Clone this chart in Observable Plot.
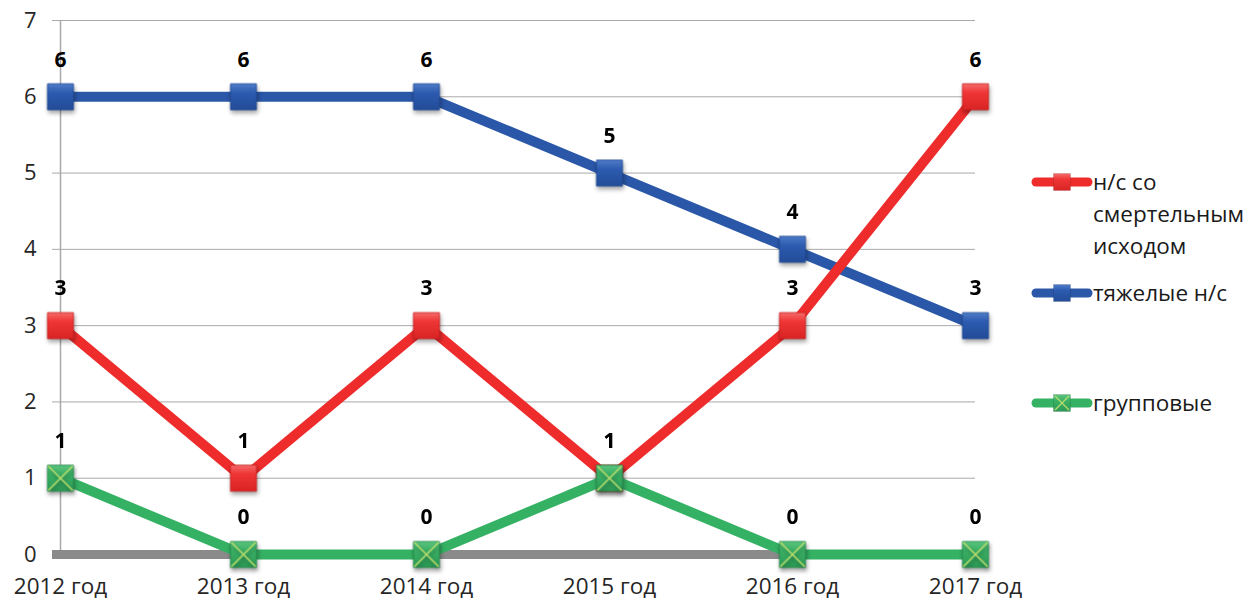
<!DOCTYPE html>
<html>
<head>
<meta charset="utf-8">
<script src="https://cdn.jsdelivr.net/npm/d3@7"></script>
<script src="https://cdn.jsdelivr.net/npm/@observablehq/plot@0.6"></script>
<style>
  html, body { margin: 0; padding: 0; background: #fff; }
  #wrap { position: relative; width: 1250px; height: 600px; font-family: "Open Sans", sans-serif; }
  #chart { position: absolute; left: 0; top: 0; }
  .leg { position: absolute; left: 1030px; }
  .leg svg { position: absolute; left: 0; top: 6px; }
  .leg .lbl { position: absolute; left: 63px; top: 0; font-size: 22.5px; line-height: 32px; color: #1a1a1a; white-space: nowrap; }
</style>
</head>
<body>
<div id="wrap"><div id="chart"></div></div>
<script>
const years = ["2012 год", "2013 год", "2014 год", "2015 год", "2016 год", "2017 год"];
const fatal = [3, 1, 3, 1, 3, 6];
const severe = [6, 6, 6, 5, 4, 3];
const group = [1, 0, 0, 1, 0, 0];
const seriesNames = ["н/с со смертельным исходом", "тяжелые н/с", "групповые"];
const yTicks = [0, 1, 2, 3, 4, 5, 6, 7];

const colors = {red: "#ee2c2c", blue: "#2a57a8", green: "#35b164"};

const rows = (vals, s) => vals.map((v, i) => ({year: years[i], value: v, series: s}));
const fatalRows = rows(fatal, seriesNames[0]);
const severeRows = rows(severe, seriesNames[1]);
const groupRows = rows(group, seriesNames[2]);

const chart = Plot.plot({
  width: 1010,
  height: 600,
  marginLeft: 52,
  marginRight: 35,
  marginTop: 20,
  marginBottom: 46,
  style: {fontFamily: "Open Sans, sans-serif", color: "#262626", background: "transparent", overflow: "visible"},
  x: {type: "point", domain: years, padding: 0, insetLeft: 8, label: null},
  y: {domain: [0, 7], label: null},
  marks: [
    Plot.ruleY(yTicks.filter(d => d > 0), {stroke: "#a9a9a9", strokeWidth: 1}),
    Plot.ruleX([years[0]], {y1: 0, y2: 7, stroke: "#a9a9a9", strokeWidth: 1.5}),
    Plot.ruleY([0], {stroke: "#8a8a8a", strokeWidth: 9}),
    Plot.axisY({ticks: yTicks, tickSize: 0, tickPadding: 16, fontSize: 22, tickFormat: d => String(d), label: null}),
    Plot.axisX({tickSize: 0, tickPadding: 24, fontSize: 22.5, label: null}),
    Plot.line(severeRows, {x: "year", y: "value", stroke: colors.blue, strokeWidth: 10}),
    Plot.dot(severeRows, {x: "year", y: "value", symbol: "square", r: 14.7, fill: "url(#gBlue)", stroke: "#1f4a94", strokeWidth: 0.8}),
    Plot.line(fatalRows, {x: "year", y: "value", stroke: colors.red, strokeWidth: 10}),
    Plot.dot(fatalRows, {x: "year", y: "value", symbol: "square", r: 14.7, fill: "url(#gRed)", stroke: "#c81f1f", strokeWidth: 0.8}),
    Plot.line(groupRows, {x: "year", y: "value", stroke: colors.green, strokeWidth: 10}),
    Plot.dot(groupRows, {x: "year", y: "value", symbol: "square", r: 14.7, fill: "url(#gGreen)", stroke: "#248a4a", strokeWidth: 0.8}),
    Plot.dot(groupRows, {x: "year", y: "value", symbol: "times", r: 11.2, stroke: "#b8dd6e", strokeWidth: 1.6}),
    Plot.text(severeRows, {x: "year", y: "value", text: d => String(d.value), dy: -37, fontSize: 21, fontWeight: "bold", fill: "#000"}),
    Plot.text(fatalRows, {x: "year", y: "value", text: d => String(d.value), dy: -37, fontSize: 21, fontWeight: "bold", fill: "#000"}),
    Plot.text(groupRows, {x: "year", y: "value", text: d => String(d.value), dy: -37, fontSize: 21, fontWeight: "bold", fill: "#000"})
  ]
});

// gradients for bevelled markers
const defs = `
<linearGradient id="gRed" x1="0" y1="0" x2="0" y2="1">
  <stop offset="0" stop-color="#f66a6a"/><stop offset="0.35" stop-color="#ef3535"/><stop offset="1" stop-color="#d92424"/>
</linearGradient>
<linearGradient id="gBlue" x1="0" y1="0" x2="0" y2="1">
  <stop offset="0" stop-color="#4f7cc8"/><stop offset="0.35" stop-color="#2d5bb0"/><stop offset="1" stop-color="#234c98"/>
</linearGradient>
<linearGradient id="gGreen" x1="0" y1="0" x2="0" y2="1">
  <stop offset="0" stop-color="#5cc47f"/><stop offset="0.35" stop-color="#3bb165"/><stop offset="1" stop-color="#2c9a55"/>
</linearGradient>`;
const d = document.createElementNS("http://www.w3.org/2000/svg", "defs");
d.innerHTML = defs;
chart.insertBefore(d, chart.firstChild);
chart.querySelectorAll('g[aria-label="dot"]').forEach(g => g.style.filter = "drop-shadow(1px 3px 2px rgba(0,0,0,0.35))");
document.getElementById("chart").appendChild(chart);

// legend
const legendItems = [
  {name: seriesNames[0], color: colors.red, fill: "url(#gRed)", y: 182, cross: false, label: "н/с со<br>смертельным<br>исходом"},
  {name: seriesNames[1], color: colors.blue, fill: "url(#gBlue)", y: 293, cross: false, label: "тяжелые н/с"},
  {name: seriesNames[2], color: colors.green, fill: "url(#gGreen)", y: 403, cross: true, label: "групповые"}
];
const wrap = document.getElementById("wrap");
legendItems.forEach(it => {
  const div = document.createElement("div");
  div.className = "leg";
  div.style.top = (it.y - 16) + "px";
  div.innerHTML = `<svg width="64" height="20">
    <line x1="6" y1="10" x2="58" y2="10" stroke="${it.color}" stroke-width="9" stroke-linecap="round"/>
    <rect x="23.5" y="1.5" width="17" height="17" fill="${it.fill}" stroke="rgba(0,0,0,0.2)" stroke-width="0.6"/>
    ${it.cross ? '<path d="M25 3 L39 17 M39 3 L25 17" stroke="#b8dd6e" stroke-width="1.3"/>' : ''}
  </svg><div class="lbl">${it.label}</div>`;
  wrap.appendChild(div);
});
</script>
</body>
</html>
